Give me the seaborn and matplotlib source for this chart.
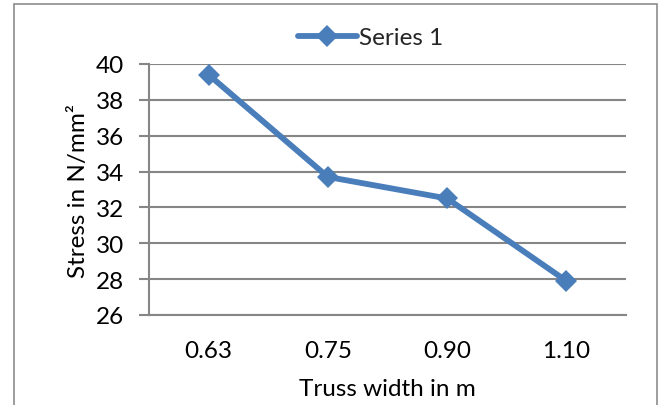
import matplotlib
matplotlib.use("Agg")
import matplotlib.pyplot as plt
from matplotlib.patches import Rectangle
import numpy as np
import pandas as pd
import seaborn as sns

# Truss width categories and corresponding stress values
widths = ["0.63", "0.75", "0.90", "1.10"]
stress = [39.4, 33.7, 32.5, 27.9]
series_name = "Series 1"
y_ticks = [26, 28, 30, 32, 34, 36, 38, 40]

df = pd.DataFrame({"width": widths, "stress": stress, "series": series_name})

sns.set_theme(style="white")
plt.rcParams["font.family"] = ["Lato", "DejaVu Sans"]

line_color = "#4A7EBB"
axis_gray = "#868686"
fs = 17.5

fig = plt.figure(figsize=(6.64, 4.06), dpi=100)
ax = fig.add_axes([149 / 664, 1 - 316 / 406, (626 - 149) / 664, (316 - 65) / 406])

sns.pointplot(
    data=df, x="width", y="stress", hue="series", order=widths,
    palette=[line_color], markers="D", linestyles="-",
    linewidth=4.2, markersize=11.5, markeredgewidth=0, ax=ax,
)

ax.set_ylim(26, 40)
ax.set_yticks(y_ticks)
ax.set_xlim(-0.5, len(widths) - 0.5)
ax.set_xticks(range(len(widths)))
ax.set_xticklabels(widths)
ax.set_xticks(np.arange(-0.5, len(widths), 1.0), minor=True)

ax.yaxis.grid(True, color=axis_gray, linewidth=1.5)
ax.set_axisbelow(True)
for side in ("top", "right"):
    ax.spines[side].set_visible(False)
for side in ("left", "bottom"):
    ax.spines[side].set_color(axis_gray)
    ax.spines[side].set_linewidth(1.5)

ax.tick_params(axis="x", which="major", length=0, pad=18, labelsize=fs, colors="black")
ax.tick_params(axis="x", which="minor", length=8, width=1.5, color=axis_gray, direction="out")
ax.tick_params(axis="y", which="major", length=7, width=1.5, color=axis_gray, labelsize=fs,
               labelcolor="black", left=True, pad=11)

ax.set_xlabel("Truss width in m", fontsize=fs, labelpad=12, color="black")
ax.set_ylabel("Stress in N/mm²", fontsize=fs, labelpad=5, color="black")

leg = ax.legend(loc="lower center", bbox_to_anchor=(0.465, 1.0), frameon=False,
                fontsize=fs, handlelength=2.4, handletextpad=0.1, borderaxespad=0.25)
for h in leg.legend_handles:
    h.set_linewidth(4.2)

fig.add_artist(Rectangle((14 / 664, -0.05), (657 - 14) / 664, 1 - 5 / 406 + 0.05,
                         transform=fig.transFigure, fill=False,
                         edgecolor="#8C8C8C", linewidth=1.2))

fig.savefig("out.png", dpi=100)
